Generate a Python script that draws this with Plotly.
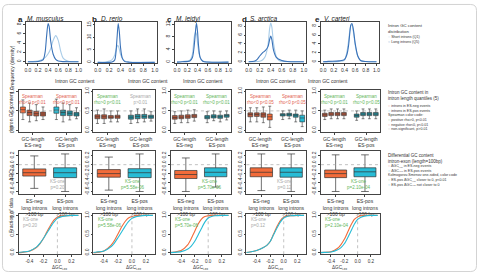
import plotly.graph_objects as go

W, H = 480, 274
FONT = "Liberation Sans, Arial, sans-serif"
AX = "#444444"
ORANGE = "#f26b3a"; CYAN = "#27bcd6"
ORANGE_D = "#b9573b"; CYAN_D = "#22909f"
SHORT_C = "#a9cce8"; LONG_C = "#3a72b8"
GREEN = "#62b55a"; RED = "#e2604f"; GREY = "#a8a8a8"

letters = ["a", "b", "c", "d", "e"]
species = ["M. musculus", "D. rerio", "M. leidyi", "S. arctica", "V. carteri"]

# ---------- Row 1: intron GC density (short Q1 / long Q5) ----------
dens_long_x = [
    [0.0, 0.2, 0.3, 0.34, 0.37, 0.40, 0.42, 0.45, 0.5, 0.55, 0.6, 0.7, 1.0],
    [0.0, 0.25, 0.3, 0.32, 0.34, 0.36, 0.38, 0.40, 0.43, 0.47, 0.55, 1.0],
    [0.0, 0.1, 0.25, 0.3, 0.33, 0.35, 0.37, 0.38, 0.40, 0.42, 0.45, 0.5, 0.6, 1.0],
    [0.0, 0.1, 0.15, 0.2, 0.25, 0.3, 0.35, 0.38, 0.40, 0.42, 0.45, 0.5, 0.6, 0.7, 1.0],
    [0.0, 0.1, 0.3, 0.4, 0.45, 0.48, 0.5, 0.52, 0.54, 0.57, 0.6, 0.65, 0.7, 0.8, 1.0],
]
dens_long_y = [
    [0, 0.05, 0.4, 2.0, 5.5, 8.2, 7.6, 4.5, 1.6, 0.5, 0.15, 0.02, 0],
    [0, 0.1, 1.0, 4.0, 10.0, 15.5, 12.0, 6.0, 1.8, 0.4, 0.05, 0],
    [0, 0.15, 0.4, 1.5, 4.5, 8.0, 11.5, 12.3, 9.5, 5.0, 1.5, 0.3, 0.05, 0],
    [0, 0.1, 0.5, 1.3, 2.0, 2.5, 3.4, 5.0, 5.8, 5.0, 2.6, 1.0, 0.3, 0.05, 0],
    [0, 0.1, 0.2, 0.5, 1.8, 4.0, 6.5, 8.3, 8.6, 7.0, 4.2, 1.3, 0.3, 0.05, 0],
]
dens_short_x = [
    [0.0, 0.1, 0.25, 0.35, 0.4, 0.45, 0.5, 0.55, 0.6, 0.65, 0.7, 0.8, 1.0],
    [0.0, 0.15, 0.25, 0.3, 0.33, 0.35, 0.37, 0.4, 0.45, 0.5, 0.6, 1.0],
    [0.0, 0.1, 0.25, 0.3, 0.32, 0.34, 0.36, 0.38, 0.40, 0.43, 0.47, 0.55, 1.0],
    [0.0, 0.2, 0.25, 0.3, 0.35, 0.38, 0.40, 0.42, 0.45, 0.5, 0.55, 0.65, 1.0],
    [0.0, 0.3, 0.4, 0.45, 0.48, 0.5, 0.52, 0.54, 0.57, 0.6, 0.65, 0.7, 1.0],
]
dens_short_y = [
    [0, 0.02, 0.3, 1.0, 1.7, 2.8, 4.6, 5.6, 4.6, 2.2, 0.7, 0.1, 0],
    [0, 0.2, 1.0, 3.0, 5.8, 6.8, 6.0, 3.2, 1.0, 0.3, 0.05, 0],
    [0, 0.2, 0.6, 2.5, 5.5, 8.5, 9.5, 8.8, 6.0, 2.5, 0.7, 0.1, 0],
    [0, 0.1, 0.4, 1.2, 3.8, 7.5, 8.7, 7.8, 4.2, 1.2, 0.3, 0.05, 0],
    [0, 0.05, 0.4, 2.5, 5.0, 7.0, 8.2, 8.3, 6.5, 3.8, 1.2, 0.3, 0],
]
dens_yticks = [[0, 2, 4, 6, 8], [0, 5, 10, 15], [0, 4, 8, 12], [0, 2, 4, 6, 8], [0, 2, 4, 6, 8]]
dens_ymax = [8.6, 16.2, 12.8, 9.0, 9.0]
gc_ticks = [0.0, 0.2, 0.4, 0.6, 0.8, 1.0]

# ---------- Row 2: intron GC per length quantile (q1, median, q3, low, high) ----------
q_neg = [
    [(0.45, 0.53, 0.60, 0.28, 0.78), (0.38, 0.46, 0.52, 0.22, 0.70), (0.37, 0.43, 0.49, 0.25, 0.66), (0.37, 0.42, 0.47, 0.28, 0.60)],
    [(0.30, 0.35, 0.40, 0.18, 0.52), (0.30, 0.35, 0.40, 0.18, 0.55), (0.31, 0.34, 0.38, 0.22, 0.50), (0.31, 0.35, 0.39, 0.22, 0.50)],
    [(0.29, 0.33, 0.38, 0.18, 0.48), (0.30, 0.34, 0.39, 0.20, 0.50), (0.31, 0.35, 0.40, 0.20, 0.52), (0.33, 0.37, 0.41, 0.24, 0.53)],
    [(0.35, 0.41, 0.45, 0.22, 0.58), (0.36, 0.41, 0.45, 0.22, 0.58), (0.34, 0.40, 0.45, 0.20, 0.60), (0.27, 0.35, 0.42, 0.08, 0.62)],
    [(0.36, 0.40, 0.44, 0.28, 0.52), (0.38, 0.42, 0.46, 0.30, 0.55), (0.38, 0.42, 0.46, 0.30, 0.55), (0.38, 0.42, 0.46, 0.30, 0.55)],
]
q_pos = [
    [(0.44, 0.52, 0.60, 0.28, 0.80), (0.38, 0.46, 0.52, 0.22, 0.70), (0.38, 0.44, 0.50, 0.27, 0.66), (0.37, 0.42, 0.46, 0.30, 0.58)],
    [(0.29, 0.34, 0.39, 0.18, 0.50), (0.30, 0.36, 0.41, 0.20, 0.55), (0.31, 0.36, 0.41, 0.22, 0.55), (0.31, 0.35, 0.39, 0.24, 0.48)],
    [(0.30, 0.34, 0.38, 0.20, 0.48), (0.32, 0.36, 0.40, 0.25, 0.50), (0.31, 0.35, 0.39, 0.22, 0.48), (0.34, 0.38, 0.41, 0.27, 0.50)],
    [(0.37, 0.40, 0.43, 0.28, 0.50), (0.37, 0.41, 0.44, 0.30, 0.52), (0.34, 0.39, 0.42, 0.22, 0.52), (0.22, 0.32, 0.39, 0.10, 0.50)],
    [(0.34, 0.38, 0.42, 0.26, 0.50), (0.38, 0.42, 0.46, 0.30, 0.55), (0.38, 0.42, 0.46, 0.30, 0.55), (0.38, 0.42, 0.46, 0.30, 0.55)],
]
q_bright = [[1, 0, 0, 0], [0, 0, 0, 0], [0, 0, 0, 0], [0, 0, 0, 1], [0, 0, 0, 0]]
q_neg_x = [1, 2, 3, 4]
q_pos_x = [6, 7, 8, 9]
spearman = [
    [("rho<0 p<0.01", RED), ("rho<0 p<0.01", RED)],
    [("rho>0 p<0.01", GREEN), ("p>0.01", GREY)],
    [("rho>0 p<0.01", GREEN), ("rho>0 p<0.01", GREEN)],
    [("rho<0 p<0.05", RED), ("rho<0 p<0.05", RED)],
    [("rho>0 p<0.01", GREEN), ("rho>0 p<0.05", GREEN)],
]
q_cats = ["GC-length<br>ES-neg", "GC-length<br>ES-pos"]

# ---------- Row 3: delta GC intron-exon boxes ----------
d_neg = [(-0.255, -0.18, -0.095, -0.53, 0.196), (-0.28, -0.20, -0.11, -0.57, 0.17), (-0.31, -0.22, -0.13, -0.60, 0.15),
         (-0.27, -0.17, -0.07, -0.58, 0.24), (-0.29, -0.20, -0.12, -0.60, 0.22)]
d_pos = [(-0.29, -0.18, -0.07, -0.60, 0.24), (-0.29, -0.18, -0.09, -0.60, 0.24), (-0.27, -0.17, -0.07, -0.50, 0.24),
         (-0.28, -0.17, -0.07, -0.60, 0.24), (-0.27, -0.16, -0.07, -0.60, 0.22)]
ks_text = ["p=0.20", "p=5.58e-06", "p=5.70e-06", "p=0.12", "p=2.10e-04"]
ks_color = [GREY, GREEN, GREEN, GREY, GREEN]
d_cats = ["ES-neg<br>long introns<br>>100 bp", "ES-pos<br>long introns<br>>100 bp"]

# ---------- Row 4: cumulative fraction ----------
cdf_x = [-0.6, -0.5, -0.4, -0.3, -0.25, -0.2, -0.15, -0.1, -0.05, 0.0, 0.05, 0.1, 0.2, 0.3]
cdf_neg = [
    [0, 0.01, 0.04, 0.14, 0.24, 0.38, 0.56, 0.73, 0.87, 0.95, 0.98, 0.99, 1, 1],
    [0, 0.01, 0.05, 0.20, 0.33, 0.50, 0.68, 0.83, 0.93, 0.97, 0.99, 1, 1, 1],
    [0, 0.02, 0.06, 0.22, 0.38, 0.57, 0.76, 0.90, 0.97, 0.99, 1, 1, 1, 1],
    [0, 0.02, 0.06, 0.14, 0.20, 0.30, 0.50, 0.70, 0.86, 0.95, 0.98, 0.99, 1, 1],
    [0, 0.01, 0.03, 0.12, 0.22, 0.36, 0.55, 0.74, 0.89, 0.96, 0.99, 1, 1, 1],
]
cdf_pos = [
    [0, 0.02, 0.05, 0.15, 0.25, 0.38, 0.53, 0.68, 0.82, 0.92, 0.96, 0.98, 1, 1],
    [0, 0.02, 0.05, 0.16, 0.26, 0.40, 0.55, 0.70, 0.83, 0.92, 0.96, 0.98, 1, 1],
    [0, 0.01, 0.03, 0.10, 0.18, 0.30, 0.47, 0.65, 0.82, 0.93, 0.97, 0.99, 1, 1],
    [0, 0.02, 0.06, 0.14, 0.20, 0.30, 0.48, 0.66, 0.82, 0.93, 0.97, 0.99, 1, 1],
    [0, 0.01, 0.02, 0.08, 0.14, 0.24, 0.40, 0.58, 0.76, 0.89, 0.95, 0.98, 1, 1],
]
cdf_xticks = [-0.4, -0.2, 0.0, 0.2]

# ---------------- layout geometry (pixels) ----------------
rows_px = [(19, 61), (88, 131), (150, 194), (214, 255)]
cols_r1 = [(25, 80), (95, 157), (175, 231), (247, 307), (322, 380)]
cols_rx = [(18, 80), (93, 155), (171, 231), (247, 307), (322, 381)]


def xdom(l, r):
    return [l / W, r / W]


def ydom(t, b):
    return [1 - b / H, 1 - t / H]


fig = go.Figure()
layout = {}
annotations = []
shapes = []
tickfont = dict(size=5, family=FONT, color="#333")


def axnames(k):
    s = "" if k == 1 else str(k)
    return "xaxis" + s, "yaxis" + s, "x" + s, "y" + s


def make_axes(k, xd, yd, xr, yr, xtv, xtt, ytv, ytt, xfont=None):
    xa, ya, xr_, yr_ = axnames(k)
    common = dict(showline=True, mirror=True, linecolor=AX, linewidth=0.8, ticks="outside",
                  ticklen=2, tickwidth=0.6, tickcolor=AX, showgrid=False,
                  zeroline=False, fixedrange=True)
    layout[xa] = dict(domain=xd, anchor=yr_, range=xr, tickmode="array", tickvals=xtv, ticktext=xtt,
                      tickfont=xfont or tickfont, **common)
    layout[ya] = dict(domain=yd, anchor=xr_, range=yr, tickmode="array", tickvals=ytv, ticktext=ytt,
                      tickangle=-90, tickfont=tickfont, **common)
    return xr_, yr_


def fmt(v):
    return f"{v:.1f}"


for c in range(5):
    # Row 1
    k = c + 1
    xr_, yr_ = make_axes(k, xdom(*cols_r1[c]), ydom(*rows_px[0]), [-0.04, 1.04], [-0.3, dens_ymax[c]],
                         gc_ticks, [fmt(v) for v in gc_ticks], dens_yticks[c], [str(v) for v in dens_yticks[c]])
    fig.add_trace(go.Scatter(x=dens_short_x[c], y=dens_short_y[c], mode="lines", line=dict(color=SHORT_C, width=1.1, shape="spline", smoothing=0.8),
                             xaxis=xr_, yaxis=yr_, showlegend=False, hoverinfo="skip"))
    fig.add_trace(go.Scatter(x=dens_long_x[c], y=dens_long_y[c], mode="lines", line=dict(color=LONG_C, width=1.1, shape="spline", smoothing=0.8),
                             xaxis=xr_, yaxis=yr_, showlegend=False, hoverinfo="skip"))
    annotations.append(dict(x=(cols_r1[c][0] + cols_r1[c][1]) / 2 / W, y=1 - 74 / H, xref="paper", yref="paper",
                            text="Intron GC content", showarrow=False, font=dict(size=5, family=FONT, color="#333")))

    # Row 2
    k = 5 + c + 1
    cx = cols_rx[c]
    xr_, yr_ = make_axes(k, xdom(*cx), ydom(*rows_px[1]), [0.4, 9.6], [-0.04, 1.04],
                         [2.5, 7.5], q_cats, [0.0, 0.5, 1.0], ["0.0", "0.5", "1.0"])
    for i in range(4):
        for data, xs, cb, cd in [(q_neg, q_neg_x, ORANGE, ORANGE_D), (q_pos, q_pos_x, CYAN, CYAN_D)]:
            q1, md, q3, lo, hi = data[c][i]
            col = cb if q_bright[c][i] else cd
            fig.add_trace(go.Box(x=[xs[i]], q1=[q1], median=[md], q3=[q3], lowerfence=[lo], upperfence=[hi],
                                 width=0.75, whiskerwidth=0.6, fillcolor=col, line=dict(color="#333", width=0.6),
                                 boxpoints=False, xaxis=xr_, yaxis=yr_, showlegend=False, hoverinfo="skip"))
    shapes.append(dict(type="line", xref=xr_ + " domain", yref=yr_, x0=0, x1=1, y0=0.5, y1=0.5,
                       line=dict(color="#999", width=0.6, dash="dot")))
    for g, gx in enumerate([2.5, 7.5]):
        txt, colr = spearman[c][g]
        annotations.append(dict(x=gx, y=0.98, xref=xr_, yref=yr_, yanchor="top", text="Spearman<br>" + txt,
                                showarrow=False, font=dict(size=4.5, family=FONT, color=colr)))

    # Row 3
    k = 10 + c + 1
    xr_, yr_ = make_axes(k, xdom(*cx), ydom(*rows_px[2]), [0.5, 2.5], [-0.66, 0.31],
                         [1, 2], d_cats, [-0.6, -0.4, -0.2, 0.0, 0.2], ["-0.6", "-0.4", "-0.2", "0.0", "0.2"])
    for xi, data, col in [(1, d_neg, ORANGE), (2, d_pos, CYAN)]:
        q1, md, q3, lo, hi = data[c]
        fig.add_trace(go.Box(x=[xi], q1=[q1], median=[md], q3=[q3], lowerfence=[lo], upperfence=[hi],
                             width=0.75, whiskerwidth=0.35, fillcolor=col, line=dict(color="#333", width=0.7),
                             boxpoints=False, xaxis=xr_, yaxis=yr_, showlegend=False, hoverinfo="skip"))
    shapes.append(dict(type="line", xref=xr_ + " domain", yref=yr_, x0=0, x1=1, y0=0.0, y1=0.0,
                       line=dict(color="#999", width=0.6, dash="dot")))
    annotations.append(dict(x=1.78, y=-0.45, xref=xr_, yref=yr_, text="KS-one<br>" + ks_text[c],
                            showarrow=False, font=dict(size=4.5, family=FONT, color=ks_color[c])))

    # Row 4
    k = 15 + c + 1
    xr_, yr_ = make_axes(k, xdom(*cx), ydom(*rows_px[3]), [-0.55, 0.33], [-0.04, 1.04],
                         cdf_xticks, [fmt(v) for v in cdf_xticks], [0.0, 0.5, 1.0], ["0.0", "0.5", "1.0"],
                         xfont=dict(size=4.6, family=FONT, color="#333"))
    fig.add_trace(go.Scatter(x=cdf_x, y=cdf_neg[c], mode="lines", line=dict(color=ORANGE, width=1.1, shape="spline", smoothing=0.6),
                             xaxis=xr_, yaxis=yr_, showlegend=False, hoverinfo="skip"))
    fig.add_trace(go.Scatter(x=cdf_x, y=cdf_pos[c], mode="lines", line=dict(color=CYAN, width=1.1, shape="spline", smoothing=0.6),
                             xaxis=xr_, yaxis=yr_, showlegend=False, hoverinfo="skip"))
    shapes.append(dict(type="line", xref=xr_, yref=yr_ + " domain", x0=0, x1=0, y0=0, y1=1,
                       line=dict(color="#999", width=0.6, dash="dot")))
    annotations.append(dict(x=0.04, y=0.97, xref=xr_ + " domain", yref=yr_ + " domain", xanchor="left", yanchor="top",
                            text="KS-one<br>" + ks_text[c], align="left",
                            showarrow=False, font=dict(size=4.5, family=FONT, color=ks_color[c])))
    annotations.append(dict(x=(cx[0] + cx[1]) / 2 / W, y=0.5 / H, xref="paper", yref="paper", yanchor="bottom",
                            text="ΔGC<sub>i-ex</sub>", showarrow=False, font=dict(size=4.6, family=FONT, color="#333")))

    # panel titles
    lx = [15, 90, 165, 240, 314][c]
    annotations.append(dict(x=lx / W, y=1 - 10 / H, xref="paper", yref="paper", xanchor="left",
                            text="<b>" + letters[c] + "</b>", showarrow=False, font=dict(size=8, family=FONT, color="#222")))
    annotations.append(dict(x=(lx + 9) / W, y=1 - 10 / H, xref="paper", yref="paper", xanchor="left",
                            text="<i>" + species[c] + "</i>", showarrow=False, font=dict(size=6.5, family=FONT, color="#222")))

# y titles
for txt, ypx, xpx in [("Frequency (density)", 40, 6), ("Intron GC content", 110, 5), ("ΔGC<sub>i-ex</sub>", 172, 5),
                      ("Fraction of data", 235, 5)]:
    annotations.append(dict(x=xpx / W, y=1 - ypx / H, xref="paper", yref="paper", textangle=-90, text=txt,
                            showarrow=False, font=dict(size=5, family=FONT, color="#333")))

# legend blocks
LX = 387


def leg_block(lines, ytop, size, anchor="top"):
    annotations.append(dict(x=LX / W, y=1 - ytop / H, xref="paper", yref="paper", xanchor="left", yanchor=anchor,
                            align="left", text="<br>".join(lines), showarrow=False,
                            font=dict(size=size, family=FONT, color="#333")))


def item(sym_color, txt):
    return f"<span style='color:{sym_color}'>○</span> {txt}"


leg_block(["Intron GC content", "distribution"], 18.5, 4.3)
leg_block([item(SHORT_C, "Short introns (Q1)"), item(LONG_C, "Long introns (Q5)")], 30.5, 3.6)

leg_block(["Intron GC content in", "intron length quantiles (5)"], 86.5, 4.5)
leg_block([item(ORANGE, "introns in ES-neg events"), item(CYAN, "introns in ES-pos events"),
           "Spearman color code:", item(GREEN, "positive rho>0, p<0.01"),
           item(RED, "negative rho<0, p<0.01"), item(GREY, "non-significant, p>0.01")], 100, 3.6)

leg_block(["Differential GC content", "intron-exon (length=100bp)"], 150.5, 4.5)
leg_block([item(ORANGE, "ΔGC<sub>i-ex</sub> in ES-neg events"), item(CYAN, "ΔGC<sub>i-ex</sub> in ES-pos events"),
           "Kolmogorov-Smirnov one-sided, color code",
           item(GREEN, "ES-pos ΔGC<sub>i-ex</sub> closer to 0, p<0.01"),
           item(CYAN, "ES-pos ΔGC<sub>i-ex</sub> not closer to 0")], 161.5, 3.6)

# rounded border
x0, y0, x1, y1, r = 1.5, 1.5, 478.5, 272.5, 6


def P(x, y):
    return f"{x / W:.5f},{1 - y / H:.5f}"


path = (f"M {P(x0 + r, y0)} L {P(x1 - r, y0)} Q {P(x1, y0)} {P(x1, y0 + r)} L {P(x1, y1 - r)} "
        f"Q {P(x1, y1)} {P(x1 - r, y1)} L {P(x0 + r, y1)} Q {P(x0, y1)} {P(x0, y1 - r)} "
        f"L {P(x0, y0 + r)} Q {P(x0, y0)} {P(x0 + r, y0)} Z")
shapes.append(dict(type="path", xref="paper", yref="paper", path=path, line=dict(color="#c8c8c8", width=0.8)))

fig.update_layout(width=W, height=H, margin=dict(l=0, r=0, t=0, b=0), paper_bgcolor="white",
                  plot_bgcolor="white", showlegend=False, annotations=annotations, shapes=shapes,
                  font=dict(family=FONT, size=5, color="#333"), **layout)

fig.write_html("out.html")
